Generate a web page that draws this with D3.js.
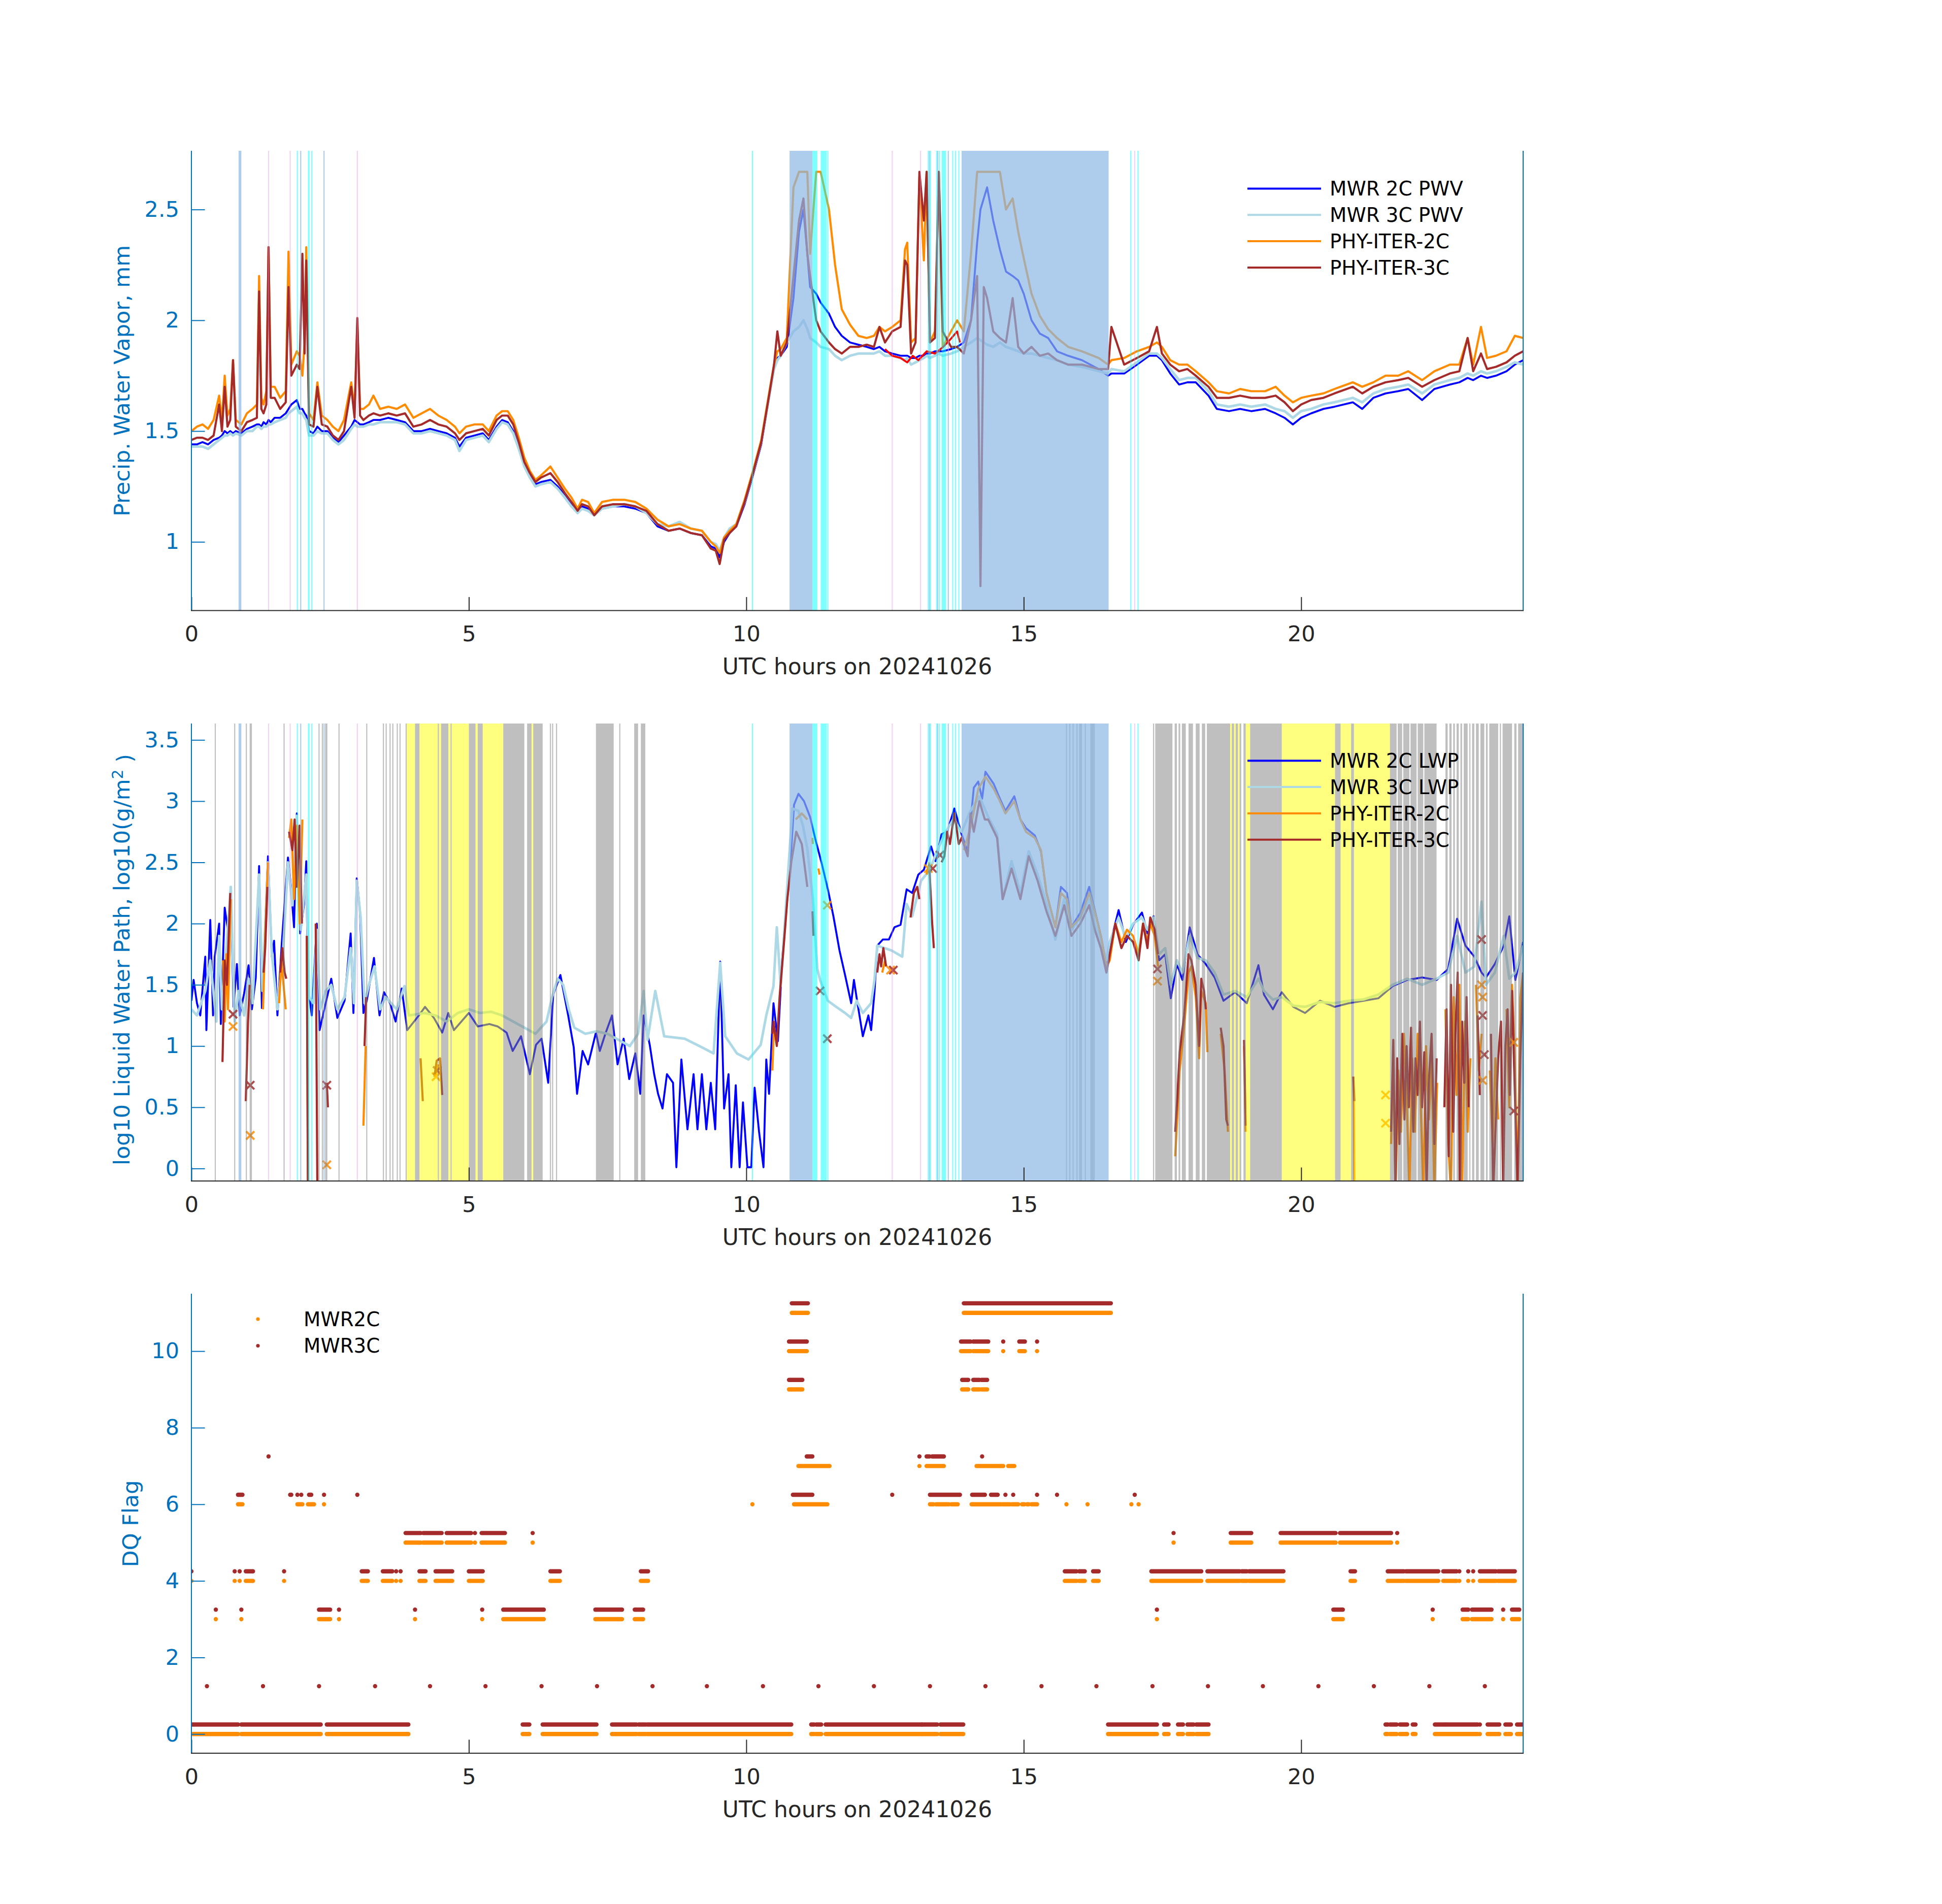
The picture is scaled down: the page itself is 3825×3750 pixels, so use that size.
<!DOCTYPE html>
<html>
<head>
<meta charset="utf-8">
<script src="https://cdn.jsdelivr.net/npm/d3@7"></script>
<style>
  body { margin: 0; background: #fff; }
  text { font-family: "DejaVu Sans", sans-serif; }
</style>
</head>
<body>
<script>
// ---- precipitable water vapour (panel 1), shared time grid in UTC hours
var pwvTime = [
  0, 0.1, 0.2, 0.3, 0.4, 0.5, 0.55, 0.6, 0.65, 0.7,
  0.75, 0.8, 0.9, 1.0, 1.1, 1.18, 1.22, 1.26, 1.3, 1.35,
  1.39, 1.43, 1.5, 1.6, 1.7, 1.75, 1.8, 1.9, 1.95, 2.0,
  2.04, 2.07, 2.12, 2.2, 2.27, 2.35, 2.45, 2.55, 2.65, 2.75,
  2.88, 2.94, 2.99, 3.04, 3.1, 3.2, 3.28, 3.4, 3.55, 3.7,
  3.85, 4.0, 4.15, 4.3, 4.45, 4.6, 4.75, 4.83, 4.95, 5.1,
  5.25, 5.36, 5.5, 5.6, 5.7, 5.8, 5.9, 6.0, 6.1, 6.2,
  6.3, 6.47, 6.6, 6.73, 6.85, 6.96, 7.04, 7.15, 7.26, 7.4,
  7.6, 7.8, 8.0, 8.2, 8.4, 8.6, 8.8, 9.0, 9.2, 9.36,
  9.45, 9.52, 9.6, 9.7, 9.82, 9.97, 10.12, 10.27, 10.43, 10.5,
  10.56, 10.62, 10.73, 10.85, 10.95, 11.03, 11.1, 11.15, 11.26, 11.34,
  11.49, 11.6, 11.72, 11.87, 12.02, 12.17, 12.3, 12.4, 12.5, 12.63,
  12.78, 12.86, 12.9, 12.97, 13.05, 13.12, 13.2, 13.25, 13.31, 13.4,
  13.47, 13.54, 13.69, 13.8, 13.92, 14.05, 14.16, 14.22, 14.28, 14.34,
  14.45, 14.57, 14.68, 14.8, 14.9, 15.0, 15.14, 15.29, 15.44, 15.6,
  15.8, 16.05, 16.35, 16.52, 16.58, 16.81, 17.04, 17.26, 17.4, 17.49,
  17.64, 17.8, 17.95, 18.1, 18.33, 18.48, 18.7, 18.9, 19.1, 19.35,
  19.54, 19.7, 19.85, 20.0, 20.18, 20.4, 20.6, 20.93, 21.1, 21.3,
  21.52, 21.75, 21.93, 22.18, 22.4, 22.68, 22.85, 23.0, 23.1, 23.24,
  23.35, 23.51, 23.7, 23.85, 24.0
];
var pwvMwr2C = [
  1.44, 1.44, 1.45, 1.44, 1.46, 1.47, 1.48, 1.50, 1.49, 1.50,
  1.49, 1.50, 1.49, 1.51, 1.52, 1.53, 1.53, 1.52, 1.54, 1.53,
  1.55, 1.54, 1.56, 1.56, 1.58, 1.60, 1.62, 1.64, 1.60, 1.60,
  1.58, 1.57, 1.50, 1.49, 1.52, 1.50, 1.50, 1.47, 1.45, 1.48,
  1.52, 1.55, 1.54, 1.53, 1.53, 1.54, 1.55, 1.55, 1.56, 1.55,
  1.54, 1.50, 1.50, 1.51, 1.50, 1.49, 1.47, 1.43, 1.47, 1.48,
  1.49, 1.46, 1.52, 1.55, 1.54, 1.50, 1.43, 1.35, 1.30, 1.26,
  1.27, 1.28, 1.25, 1.21, 1.17, 1.13, 1.16, 1.15, 1.12, 1.15,
  1.16, 1.16, 1.15, 1.13, 1.07, 1.05, 1.06, 1.04, 1.03, 0.98,
  0.97, 0.93, 1.00, 1.04, 1.07, 1.17, 1.30, 1.44, 1.68, 1.78,
  1.83, 1.84, 1.88, 2.10, 2.40, 2.50, 2.30, 2.15, 2.12, 2.08,
  2.03, 1.97, 1.93, 1.90, 1.89, 1.88, 1.87, 1.88, 1.86, 1.85,
  1.84, 1.84, 1.84, 1.83, 1.83, 1.84, 1.84, 1.85, 1.85, 1.86,
  1.86, 1.86, 1.87, 1.88, 1.90, 2.00, 2.35, 2.50, 2.55, 2.60,
  2.45, 2.32, 2.22, 2.20, 2.18, 2.12, 2.00, 1.94, 1.92, 1.86,
  1.84, 1.82, 1.78, 1.75, 1.76, 1.76, 1.80, 1.84, 1.84, 1.82,
  1.76, 1.71, 1.72, 1.72, 1.66, 1.60, 1.59, 1.60, 1.59, 1.60,
  1.58, 1.56, 1.53, 1.56, 1.58, 1.60, 1.61, 1.63, 1.60, 1.65,
  1.67, 1.68, 1.69, 1.64, 1.69, 1.71, 1.72, 1.74, 1.73, 1.75,
  1.74, 1.75, 1.77, 1.80, 1.82
];
var pwvMwr3C = [
  1.43, 1.43, 1.43, 1.42, 1.44, 1.46, 1.47, 1.48, 1.48, 1.49,
  1.48, 1.49, 1.48, 1.50, 1.50, 1.52, 1.52, 1.51, 1.52, 1.52,
  1.53, 1.53, 1.54, 1.55, 1.56, 1.58, 1.59, 1.61, 1.58, 1.58,
  1.56, 1.55, 1.48, 1.48, 1.50, 1.49, 1.49, 1.46, 1.44, 1.46,
  1.51, 1.53, 1.52, 1.52, 1.52, 1.53, 1.53, 1.54, 1.54, 1.54,
  1.53, 1.49, 1.49, 1.50, 1.49, 1.48, 1.46, 1.41, 1.46, 1.47,
  1.48, 1.45, 1.51, 1.54, 1.53, 1.49, 1.42, 1.34, 1.29, 1.25,
  1.26, 1.27, 1.24, 1.20, 1.16, 1.13, 1.15, 1.14, 1.12, 1.15,
  1.16, 1.17, 1.16, 1.13, 1.08, 1.07, 1.09, 1.06, 1.05, 1.00,
  0.99, 0.96, 1.02, 1.06, 1.08, 1.18, 1.31, 1.45, 1.68, 1.78,
  1.82, 1.84, 1.90, 1.95, 1.97, 2.00, 1.96, 1.92, 1.90, 1.88,
  1.87, 1.84, 1.82, 1.84, 1.85, 1.85, 1.85, 1.86, 1.84, 1.84,
  1.83, 1.82, 1.83, 1.80, 1.81, 1.82, 1.83, 1.84, 1.83, 1.84,
  1.85, 1.84, 1.85, 1.86, 1.88, 1.90, 1.92, 1.91, 1.90, 1.89,
  1.88, 1.90, 1.88, 1.87, 1.86, 1.85, 1.85, 1.84, 1.83, 1.82,
  1.80, 1.79, 1.77, 1.76, 1.78, 1.77, 1.81, 1.85, 1.85, 1.83,
  1.78, 1.73, 1.74, 1.74, 1.68, 1.62, 1.61, 1.62, 1.61, 1.62,
  1.60, 1.59, 1.56, 1.59, 1.60, 1.62, 1.63, 1.65, 1.63, 1.67,
  1.69, 1.70, 1.71, 1.67, 1.71, 1.73, 1.74, 1.76, 1.75, 1.77,
  1.76, 1.77, 1.79, 1.81, 1.80
];
var pwvPhy2C = [
  1.50, 1.52, 1.53, 1.51, 1.55, 1.66, 1.55, 1.75, 1.57, 1.60,
  1.82, 1.55, 1.53, 1.58, 1.60, 1.62, 2.20, 1.65, 1.62, 1.68,
  2.33, 1.70, 1.70, 1.65, 1.68, 2.31, 1.80, 1.86, 1.84, 1.75,
  1.90, 2.33, 1.58, 1.55, 1.72, 1.57, 1.55, 1.52, 1.50, 1.55,
  1.72, 1.60, 1.98, 1.60, 1.60, 1.62, 1.66, 1.60, 1.61, 1.60,
  1.62, 1.56, 1.58, 1.60, 1.57, 1.55, 1.52, 1.49, 1.52, 1.53,
  1.53, 1.50, 1.57, 1.59, 1.59, 1.55, 1.47, 1.38, 1.32, 1.28,
  1.30, 1.34, 1.29, 1.24, 1.20, 1.15, 1.19, 1.18, 1.13, 1.18,
  1.19, 1.19, 1.18, 1.15, 1.10, 1.07, 1.08, 1.06, 1.05, 1.00,
  0.98, 0.95, 1.02, 1.05, 1.08, 1.19, 1.32, 1.46, 1.70, 1.80,
  1.86, 1.87, 1.92, 2.60, 2.67, 2.67, 2.67, 2.30, 2.67, 2.67,
  2.50, 2.25, 2.05, 1.98, 1.93, 1.92, 1.93, 1.97, 1.95, 1.97,
  2.00, 2.32, 2.35, 1.90, 1.92, 2.65, 2.27, 2.67, 1.90, 1.95,
  2.67, 1.88, 1.95, 2.00, 1.95, 2.30, 2.67, 2.67, 2.67, 2.67,
  2.67, 2.67, 2.50, 2.55, 2.40, 2.28, 2.12, 2.02, 1.96, 1.92,
  1.88, 1.86, 1.83, 1.80, 1.82, 1.83, 1.86, 1.88, 1.90, 1.88,
  1.82, 1.80, 1.80, 1.77, 1.72, 1.68, 1.67, 1.69, 1.68, 1.68,
  1.70, 1.66, 1.63, 1.65, 1.66, 1.67, 1.69, 1.72, 1.70, 1.72,
  1.75, 1.75, 1.77, 1.73, 1.77, 1.80, 1.80, 1.92, 1.80, 1.97,
  1.83, 1.84, 1.86, 1.93, 1.92
];
var pwvPhy3C = [
  1.46, 1.47, 1.47, 1.46, 1.48, 1.62, 1.50, 1.70, 1.52, 1.55,
  1.82, 1.52, 1.50, 1.54, 1.55, 1.56, 2.13, 1.60, 1.58, 1.62,
  2.33, 1.65, 1.65, 1.60, 1.63, 2.15, 1.75, 1.80, 1.78, 2.30,
  1.85, 2.27, 1.53, 1.52, 1.70, 1.53, 1.52, 1.48, 1.46, 1.50,
  1.70, 1.56, 2.01, 1.57, 1.55, 1.57, 1.58, 1.57, 1.58, 1.57,
  1.58, 1.52, 1.53, 1.55, 1.53, 1.52, 1.49, 1.46, 1.49, 1.50,
  1.51, 1.48, 1.55, 1.57, 1.57, 1.53, 1.45, 1.36, 1.31, 1.27,
  1.29, 1.31, 1.27, 1.22, 1.18, 1.14, 1.17, 1.16, 1.12, 1.16,
  1.17, 1.17, 1.16, 1.14, 1.08, 1.05, 1.06, 1.04, 1.03, 0.97,
  0.96, 0.90, 1.01, 1.04, 1.07, 1.18, 1.31, 1.45, 1.69, 1.80,
  1.95, 1.84, 1.90, 2.20, 2.45, 2.55, 2.30, 2.20, 2.00, 1.95,
  1.90, 1.87, 1.85, 1.88, 1.88, 1.89, 1.88, 1.97, 1.90, 1.95,
  1.97, 2.27, 2.25, 1.85, 1.90, 2.67, 2.45, 2.67, 1.90, 1.92,
  2.67, 1.95, 1.88, 1.88, 1.85, 2.00, 2.20, 0.80, 2.15, 2.10,
  1.95, 1.92, 1.90, 2.10, 1.88, 1.85, 1.88, 1.84, 1.85, 1.82,
  1.80, 1.80, 1.78, 1.78, 1.97, 1.80, 1.83, 1.86, 1.97, 1.85,
  1.80, 1.77, 1.78, 1.75, 1.70, 1.65, 1.65, 1.66, 1.65, 1.65,
  1.66, 1.63, 1.59, 1.62, 1.64, 1.65, 1.67, 1.70, 1.67, 1.70,
  1.72, 1.73, 1.74, 1.70, 1.73, 1.76, 1.77, 1.92, 1.77, 1.85,
  1.78, 1.79, 1.81, 1.84, 1.86
];
// flagged MWR 2C PWV samples drawn in red
var pwvFlagged = [[12.5, 1.87], [12.63, 1.84], [12.78, 1.83], [12.9, 1.81], [13.0, 1.84], [13.1, 1.82],
  [13.25, 1.86], [13.4, 1.85], [13.55, 1.88], [13.7, 1.92], [13.8, 1.95], [13.85, 1.9]];

// ---- liquid water path (panel 2), [hour, log10 LWP]; null = gap
var lwpMwr2C = [[0,1.37],[0.04,1.54],[0.1,1.35],[0.16,1.25],[0.25,1.73],[0.27,1.13],[0.34,2.03],[0.39,1.25],[0.42,1.73],[0.5,2.0],
  [0.53,1.18],[0.6,2.13],[0.66,1.94],[0.71,2.28],[0.76,1.32],[0.82,1.67],[0.87,1.25],[0.95,1.43],[1.03,1.66],[1.09,1.3],
  [1.16,1.56],[1.22,2.47],[1.27,1.31],[1.38,2.55],[1.45,1.73],[1.49,1.86],[1.55,1.25],[1.63,1.85],[1.74,2.54],[1.79,2.32],
  [1.85,1.97],[1.9,2.9],[1.96,1.92],[2.03,2.16],[2.07,2.51],[2.1,1.49],[2.17,1.25],[2.26,2.0],[2.31,1.13],[2.42,1.35],
  [2.52,1.55],[2.63,1.23],[2.76,1.37],[2.87,1.92],[2.92,1.27],[2.98,2.37],[3.04,2.09],[3.1,1.27],[3.16,1.37],[3.29,1.72],
  [3.39,1.25],[3.47,1.44],[3.58,1.35],[3.68,1.2],[3.79,1.47],[3.89,1.13],[4.1,1.25],[4.21,1.32],[4.37,1.23],[4.52,1.11],
  [4.63,1.27],[4.73,1.13],[5.0,1.27],[5.16,1.16],[5.37,1.18],[5.52,1.16],[5.68,1.11],[5.79,0.96],[5.94,1.08],[6.1,0.77],
  [6.21,1.01],[6.31,1.06],[6.43,0.7],[6.52,1.42],[6.65,1.58],[6.79,1.25],[6.89,0.99],[6.95,0.61],[7.05,0.96],[7.15,0.85],
  [7.29,1.11],[7.36,0.96],[7.46,1.1],[7.58,1.25],[7.68,0.85],[7.79,1.06],[7.89,0.73],[8.0,0.94],[8.09,0.61],[8.15,1.25],
  [8.26,1.01],[8.34,0.77],[8.41,0.61],[8.49,0.49],[8.57,0.77],[8.68,0.7],[8.74,0.01],[8.83,0.89],[8.94,0.32],[9.05,0.77],
  [9.12,0.32],[9.2,0.77],[9.28,0.32],[9.36,0.7],[9.44,0.32],[9.53,1.69],[9.6,0.49],[9.68,0.77],[9.73,0.01],[9.81,0.68],
  [9.88,0.01],[9.94,0.54],[10.02,0.01],[10.09,0.01],[10.15,0.66],[10.23,0.3],[10.31,0.01],[10.36,0.89],[10.41,0.61],[10.49,1.35],
  [10.57,1.04],[10.65,1.73],[10.73,2.16],[10.81,2.61],[10.86,2.97],[10.94,3.06],[11.04,3.0],[11.15,2.87],[11.25,2.68],[11.36,2.49],
  [11.47,2.28],[11.57,2.06],[11.68,1.78],[11.78,1.58],[11.89,1.35],[11.94,1.54],[11.99,1.39],[12.1,1.08],[12.2,1.25],[12.25,1.13],
  [12.31,1.44],[12.36,1.82],[12.46,1.87],[12.57,1.87],[12.67,1.97],[12.78,1.99],[12.89,2.28],[12.99,2.25],[13.1,2.4],[13.2,2.44],
  [13.33,2.63],[13.41,2.51],[13.52,2.73],[13.62,2.75],[13.75,2.94],[13.88,2.73],[13.99,2.59],[14.1,3.11],[14.18,3.16],[14.25,3.02],
  [14.31,3.24],[14.46,3.14],[14.57,3.02],[14.67,2.92],[14.83,3.04],[14.94,2.85],[15.04,2.78],[15.2,2.72],[15.31,2.59],[15.41,2.25],
  [15.57,1.97],[15.67,2.3],[15.78,2.25],[15.86,1.97],[16.02,2.09],[16.18,2.3],[16.28,2.11],[16.39,1.9],[16.49,1.66],[16.55,1.82],
  [16.71,2.11],[16.84,1.85],[16.97,1.99],[17.13,2.09],[17.23,1.92],[17.34,2.06],[17.44,1.7],[17.55,1.75],[17.65,1.39],[17.76,1.67],
  [17.86,1.54],[17.99,1.97],[18.13,1.75],[18.28,1.67],[18.44,1.56],[18.6,1.37],[18.81,1.44],[19.02,1.35],[19.23,1.66],[19.33,1.42],
  [19.49,1.3],[19.65,1.44],[19.86,1.32],[20.07,1.27],[20.34,1.37],[20.6,1.32],[20.86,1.35],[21.12,1.37],[21.39,1.39],[21.65,1.49],
  [21.91,1.54],[22.18,1.56],[22.44,1.54],[22.65,1.63],[22.81,2.04],[22.96,1.82],[23.12,1.73],[23.25,1.6],[23.33,1.56],[23.49,1.67],
  [23.65,1.82],[23.75,2.06],[23.86,1.54],[24.0,1.85]];
var lwpMwr3C = [[0,1.3],[0.1,1.25],[0.25,1.45],[0.34,1.7],[0.45,1.2],[0.5,1.9],[0.55,1.3],[0.71,2.3],[0.78,1.2],[0.85,1.45],
  [0.95,1.25],[1.03,1.55],[1.1,1.35],[1.22,2.4],[1.28,1.45],[1.38,2.5],[1.45,1.75],[1.55,1.3],[1.65,1.75],[1.74,2.5],
  [1.82,2.15],[1.9,2.88],[1.97,1.95],[2.07,2.4],[2.12,1.4],[2.2,1.35],[2.26,1.95],[2.32,1.3],[2.42,1.45],[2.52,1.5],
  [2.63,1.3],[2.76,1.4],[2.87,1.8],[2.93,1.35],[2.98,2.35],[3.05,2.05],[3.12,1.35],[3.2,1.5],[3.3,1.65],[3.4,1.3],
  [3.5,1.4],[3.6,1.35],[3.7,1.3],[3.84,1.49],[3.92,1.25],[4.2,1.27],[4.4,1.25],[4.6,1.2],[4.8,1.27],[5.0,1.3],
  [5.2,1.27],[5.4,1.28],[5.6,1.25],[5.8,1.2],[6.0,1.15],[6.2,1.1],[6.4,1.2],[6.5,1.4],[6.6,1.55],[6.7,1.5],
  [6.8,1.3],[6.9,1.15],[7.1,1.1],[7.3,1.12],[7.5,1.1],[7.7,1.05],[7.9,1.0],[8.05,1.1],[8.15,1.45],[8.22,1.05],
  [8.36,1.45],[8.52,1.08],[8.89,1.06],[9.2,0.99],[9.41,0.94],[9.53,1.68],[9.62,1.08],[9.83,0.94],[10.04,0.89],[10.26,1.01],
  [10.36,1.25],[10.49,1.49],[10.55,1.97],[10.62,1.49],[10.73,2.25],[10.83,2.94],[10.94,2.92],[11.02,2.8],[11.1,2.61],[11.2,2.2],
  [11.28,1.63],[11.33,1.54],[11.47,1.37],[11.62,1.32],[11.78,1.27],[11.89,1.23],[11.99,1.37],[12.1,1.27],[12.25,1.35],[12.31,1.54],
  [12.36,1.82],[12.62,1.78],[12.81,1.73],[12.89,2.16],[12.99,2.06],[13.15,2.35],[13.31,2.44],[13.41,2.56],[13.57,2.73],[13.73,2.85],
  [13.88,2.75],[14.04,2.92],[14.2,3.04],[14.36,2.87],[14.52,2.73],[14.62,2.2],[14.78,2.51],[14.94,2.25],[15.09,2.59],[15.25,2.4],
  [15.41,2.16],[15.57,1.87],[15.73,2.2],[15.86,1.95],[16.02,2.05],[16.18,2.2],[16.28,2.0],[16.39,1.85],[16.49,1.7],[16.55,1.85],
  [16.71,2.05],[16.84,1.88],[16.97,2.0],[17.13,2.05],[17.23,1.95],[17.34,2.05],[17.44,1.75],[17.55,1.8],[17.65,1.5],[17.76,1.7],
  [17.86,1.6],[17.99,1.9],[18.13,1.72],[18.28,1.7],[18.44,1.6],[18.6,1.42],[18.81,1.45],[19.02,1.4],[19.23,1.55],[19.33,1.45],
  [19.49,1.38],[19.65,1.4],[19.86,1.33],[20.07,1.32],[20.34,1.36],[20.6,1.35],[20.86,1.37],[21.12,1.38],[21.39,1.42],[21.65,1.5],
  [21.91,1.55],[22.18,1.5],[22.44,1.55],[22.65,1.6],[22.81,1.9],[22.96,1.6],[23.12,1.65],[23.25,2.18],[23.33,1.5],[23.49,1.6],
  [23.65,1.9],[23.75,1.55],[23.86,1.6],[24.0,1.82]];
var lwpPhy2C = [[0.57,1.7],[0.6,1.2],[0.63,1.75],[0.66,1.3],[0.71,2.2],[0.73,null],
  [1.29,1.3],[1.33,1.9],[1.38,2.5],[1.4,null],
  [1.58,1.35],[1.62,1.7],[1.66,1.5],[1.7,1.3],[1.72,null],
  [1.76,2.7],[1.8,2.85],[1.85,2.2],[1.9,2.8],[1.95,2.0],[2.0,2.85],[2.03,null],
  [2.08,1.9],[2.1,-0.2],[2.12,null],
  [3.1,0.35],[3.14,1.0],[3.16,null],
  [4.4,0.75],[4.45,0.85],[4.5,null],
  [10.47,0.8],[10.5,1.2],[10.52,null],
  [10.89,2.85],[11.0,2.9],[11.1,2.85],[11.15,null],
  [11.19,2.7],[11.2,2.65],[11.22,null],[11.3,2.45],[11.32,2.4],[11.34,null],
  [12.45,1.6],[12.5,1.7],[12.55,null],
  [13.25,2.4],[13.3,2.5],[13.35,null],
  [13.92,2.6],[14.05,2.8],[14.18,3.1],[14.31,3.2],[14.46,3.1],[14.57,3.0],[14.67,2.9],[14.83,3.0],[14.94,2.85],[15.04,2.75],
  [15.2,2.7],[15.31,2.6],[15.41,2.25],[15.57,1.97],[15.67,2.25],[15.78,2.2],[15.86,1.97],[16.02,2.05],[16.18,2.25],[16.28,2.1],
  [16.39,1.9],[16.49,1.65],[16.55,1.7],[16.65,2.0],[16.76,1.85],[16.86,1.95],[16.97,1.9],[17.07,1.75],[17.15,2.0],[17.23,1.85],
  [17.28,2.0],[17.36,1.9],[17.42,1.65],[17.45,null],
  [17.73,0.1],[17.81,0.8],[17.89,1.15],[17.97,1.6],[18.02,1.65],[18.1,1.4],[18.16,0.9],[18.2,1.45],[18.28,1.35],[18.31,0.95],[18.33,null],
  [18.55,1.1],[18.62,0.8],[18.68,0.3],[18.7,null],
  [18.97,1.0],[19.0,0.3],[19.02,null],
  [20.94,0.75],[20.95,0.5],[20.96,-0.2],[20.98,null],
  [21.62,0.2],[21.66,0.9],[21.7,-0.2],[21.75,0.8],[21.8,0.3],[21.85,1.1],[21.9,0.6],[21.95,-0.2],[22.0,0.9],[22.05,0.3],
  [22.1,1.1],[22.15,0.6],[22.2,-0.2],[22.25,1.0],[22.3,0.4],[22.35,0.9],[22.4,-0.2],[22.45,0.7],[22.5,null],
  [22.6,1.3],[22.65,0.2],[22.7,-0.2],[22.75,1.4],[22.8,0.6],[22.85,1.5],[22.9,-0.2],[22.95,1.2],[23.0,0.3],[23.05,0.9],[23.1,null],
  [23.15,1.5],[23.2,0.8],[23.25,1.1],[23.3,null],
  [23.4,0.8],[23.45,0.2],[23.5,0.9],[23.55,0.4],[23.6,null],
  [23.7,1.3],[23.75,0.5],[23.8,1.5],[23.85,0.9],[23.9,-0.2],[23.95,1.4],[24.0,1.6]];
var lwpPhy3C = [[0.56,0.87],[0.6,1.7],[0.64,1.5],[0.68,2.0],[0.7,2.25],[0.72,null],
  [0.98,0.55],[1.02,1.2],[1.05,1.5],[1.07,null],
  [1.3,1.6],[1.33,1.8],[1.37,2.3],[1.39,null],
  [1.6,1.6],[1.64,1.8],[1.68,1.6],[1.71,1.55],[1.73,null],
  [1.76,2.75],[1.82,2.6],[1.86,2.85],[1.9,2.3],[1.95,2.8],[1.99,2.0],[2.02,null],
  [2.08,1.9],[2.1,-0.2],[2.12,null],[2.24,2.0],[2.27,-0.2],[2.29,null],
  [2.44,0.7],[2.46,0.5],[2.48,null],
  [3.12,1.0],[3.15,1.4],[3.17,null],
  [4.13,0.9],[4.17,0.55],[4.19,null],[4.38,0.75],[4.42,0.88],[4.48,0.9],[4.52,0.6],[4.54,null],
  [10.47,1.1],[10.49,1.2],[10.55,1.0],[10.6,1.4],[10.68,1.85],[10.74,2.2],[10.81,2.5],[10.9,2.75],[11.0,2.65],[11.1,2.3],[11.12,null],
  [11.19,2.1],[11.21,1.9],[11.23,null],
  [12.36,1.6],[12.4,1.75],[12.43,1.65],[12.47,1.8],[12.52,1.65],[12.54,null],
  [12.96,2.05],[13.02,2.25],[13.08,2.3],[13.12,2.2],[13.14,null],
  [13.3,2.45],[13.35,2.0],[13.38,1.8],[13.4,null],
  [13.52,2.5],[13.57,2.55],[13.62,2.75],[13.67,2.65],[13.75,2.9],[13.83,2.65],[13.88,2.7],[13.99,2.55],[14.04,2.9],[14.1,2.75],
  [14.2,3.0],[14.3,2.85],[14.36,2.85],[14.52,2.7],[14.62,2.2],[14.78,2.45],[14.94,2.2],[15.09,2.55],[15.25,2.35],[15.41,2.1],
  [15.57,1.9],[15.73,2.15],[15.86,1.9],[16.02,2.0],[16.18,2.15],[16.28,1.95],[16.39,1.8],[16.49,1.6],[16.55,1.75],[16.65,2.0],
  [16.76,1.8],[16.86,1.9],[16.97,1.85],[17.07,1.7],[17.15,2.0],[17.23,1.8],[17.28,2.05],[17.36,1.95],[17.42,1.75],[17.45,null],
  [17.73,0.3],[17.77,0.6],[17.81,0.95],[17.89,1.25],[17.97,1.75],[18.02,1.7],[18.1,1.5],[18.16,1.0],[18.2,1.55],[18.25,1.45],[18.28,1.3],[18.3,null],
  [18.55,1.15],[18.6,1.0],[18.65,0.4],[18.68,0.35],[18.7,null],
  [18.97,1.05],[19.0,0.35],[19.02,null],
  [20.94,0.75],[20.96,0.55],[20.98,null],
  [21.62,0.3],[21.66,1.05],[21.7,-0.2],[21.73,0.9],[21.77,0.2],[21.82,1.1],[21.86,0.4],[21.9,1.0],[21.94,0.5],[21.98,1.15],
  [22.02,0.3],[22.06,0.9],[22.1,0.6],[22.14,1.2],[22.18,0.5],[22.22,0.95],[22.26,-0.2],[22.3,0.7],[22.35,1.1],[22.4,0.2],[22.44,0.9],[22.47,null],
  [22.58,0.5],[22.62,1.3],[22.66,0.1],[22.7,1.5],[22.74,0.3],[22.78,1.1],[22.82,1.6],[22.86,-0.2],[22.9,1.2],[22.94,0.7],[22.98,1.4],[23.02,0.5],[23.05,null],
  [23.18,1.25],[23.22,0.6],[23.24,null],
  [23.42,1.1],[23.46,-0.2],[23.5,0.3],[23.55,0.9],[23.6,1.2],[23.64,-0.2],[23.68,1.0],[23.72,1.3],[23.76,0.6],[23.8,1.45],
  [23.84,0.8],[23.9,-0.2],[23.95,0.9],[24.0,1.6]];
var lwpCross2C = [[0.75,1.16],[1.06,0.27],[2.44,0.03],[4.41,0.75],[11.46,2.15],[12.6,1.62],[13.28,2.45],[17.41,1.53],
  [21.52,0.6],[21.52,0.37],[23.25,1.5],[23.27,1.4],[23.27,0.72],[23.83,1.03]];
var lwpCross3C = [[0.75,1.26],[1.06,0.68],[2.44,0.68],[4.43,0.8],[11.33,1.45],[11.46,1.06],[12.65,1.62],[13.36,2.45],
  [13.49,2.56],[17.41,1.63],[23.25,1.87],[23.27,1.25],[23.3,0.93],[23.83,0.47]];

// ---- shaded time intervals [start hour, end hour]
var blueBands = [[0.85,0.9],[1.96,1.98],[2.38,2.4],[10.78,11.19],[13.29,13.31],[13.44,13.46],[13.63,13.65],[13.88,16.53]];
var cyanBands = [[1.9,1.92],[2.1,2.13],[2.16,2.18],[10.1,10.12],[11.19,11.28],[11.34,11.45],[11.46,11.48],[13.27,13.29],
  [13.31,13.33],[13.42,13.44],[13.47,13.49],[13.52,13.6],[13.71,13.73],[13.76,13.78],[13.82,13.84],[16.92,16.94],[17.05,17.07]];
var pinkBands = [[1.38,1.39],[1.77,1.78],[2.98,2.99],[12.62,12.63],[13.13,13.14],[16.99,17.0]];
var grayBands = [[0.42,0.44],[0.77,0.79],[0.98,1.0],[1.05,1.09],[1.66,1.68],[2.29,2.31],[2.35,2.37],[2.41,2.45],[2.65,2.67],
  [3.15,3.17],[3.45,3.47],[3.5,3.52],[3.57,3.59],[3.62,3.64],[3.7,3.72],[3.75,3.77],[3.86,3.88],[4.03,4.11],[4.44,4.46],
  [4.5,4.63],[4.67,4.69],[5.0,5.12],[5.16,5.25],[5.62,6.0],[6.05,6.13],[6.16,6.33],[6.46,6.48],[6.5,6.52],[6.57,6.59],
  [7.29,7.61],[7.71,7.73],[7.98,8.05],[8.1,8.18],[15.76,15.78],[15.82,15.84],[15.88,15.9],[15.95,15.97],[16.0,16.05],
  [16.1,16.12],[16.2,16.28],[17.33,17.34],[17.37,17.68],[17.72,17.76],[17.79,17.82],[17.85,17.92],[17.97,18.05],[18.1,18.17],
  [18.21,18.27],[18.3,18.72],[18.75,18.79],[18.82,18.86],[18.89,18.92],[18.96,19.0],[19.08,19.65],[20.61,20.71],[20.9,20.95],
  [21.6,21.72],[21.74,21.82],[21.84,21.95],[21.97,22.08],[22.1,22.2],[22.22,22.44],[22.6,22.64],[22.67,22.71],[22.74,22.77],
  [22.8,22.84],[22.87,22.9],[22.93,23.0],[23.03,23.05],[23.08,23.12],[23.15,23.2],[23.23,23.3],[23.33,23.36],[23.39,23.55],
  [23.58,23.6],[23.63,23.8],[23.84,23.88],[23.91,24.0]];
var yellowBands = [[3.88,4.03],[4.11,4.44],[4.46,4.5],[4.63,4.67],[4.69,5.0],[5.12,5.16],[5.25,5.62],[6.13,6.16],
  [18.72,18.75],[18.79,18.82],[18.86,18.89],[19.0,19.08],[19.65,20.61],[20.71,20.9],[20.95,21.6]];

// ---- data quality flags (panel 3): runs [start hour, end hour, flag]
var dqBoth = [
  [0,0.84,0],[0.9,2.33,0],[2.44,3.91,0],[5.97,6.09,0],[6.33,7.3,0],[7.58,8.02,0],[8.06,8.18,0],[8.21,10.81,0],
  [11.17,11.22,0],[11.26,11.35,0],[11.43,13.16,0],[13.17,13.44,0],[13.5,13.91,0],[16.52,17.4,0],[17.53,17.61,0],
  [17.78,17.87,0],[17.95,18.06,0],[18.11,18.33,0],[21.52,21.56,0],[21.6,21.72,0],[21.78,21.91,0],[22.01,22.06,0],
  [22.41,22.6,0],[22.62,23.18,0],[23.22,23.22,0],[23.36,23.57,0],[23.68,23.78,0],[23.89,24,0],
  [0.44,0.44,3],[0.9,0.9,3],[2.3,2.5,3],[2.66,2.66,3],[4.03,4.03,3],[5.24,5.24,3],[5.62,6.35,3],[7.28,7.76,3],
  [7.99,8.14,3],[17.4,17.4,3],[20.58,20.75,3],[22.37,22.37,3],[22.91,23.01,3],[23.08,23.43,3],[23.64,23.64,3],[23.8,23.93,3],
  [0,0,4],[0.78,0.78,4],[0.87,0.87,4],[0.98,1.11,4],[1.67,1.67,4],[3.07,3.18,4],[3.45,3.62,4],[3.69,3.69,4],[3.77,3.77,4],
  [4.11,4.22,4],[4.4,4.7,4],[5.0,5.25,4],[6.47,6.64,4],[8.1,8.23,4],[15.74,15.95,4],[16.0,16.1,4],[16.25,16.35,4],
  [17.3,18.2,4],[18.31,18.89,4],[18.93,19.02,4],[19.06,19.68,4],[20.89,20.97,4],[21.56,21.85,4],[21.89,22.47,4],
  [22.56,22.8,4],[22.85,22.85,4],[23.01,23.01,4],[23.1,23.1,4],[23.22,23.51,4],[23.55,23.85,4],
  [3.86,4.13,5],[4.18,4.51,5],[4.6,5.04,5],[5.11,5.11,5],[5.23,5.65,5],[6.15,6.15,5],[17.7,17.7,5],[18.73,19.1,5],
  [19.63,20.62,5],[20.7,21.62,5],[21.73,21.73,5],
  [10.77,11.01,9],[13.89,14.0,9],[14.09,14.2,9],[14.24,14.34,9],
  [10.77,11.09,10],[13.87,14.04,10],[14.09,14.36,10],[14.63,14.63,10],[14.92,15.02,10],[15.24,15.24,10],
  [10.82,11.11,11],[13.92,16.57,11]
];
var dq2COnly = [
  [0.84,0.92,6],[1.91,2.0,6],[2.1,2.21,6],[2.39,2.39,6],[10.11,10.11,6],[10.86,11.46,6],[13.31,13.37,6],[13.42,13.65,6],
  [13.7,13.81,6],[14.06,14.59,6],[14.62,14.75,6],[14.79,14.9,6],[14.97,15.01,6],[15.06,15.09,6],[15.14,15.24,6],
  [15.77,15.77,6],[16.15,16.15,6],[16.94,16.94,6],[17.07,17.07,6],
  [10.94,11.5,7],[13.12,13.12,7],[13.25,13.56,7],[14.15,14.63,7],[14.72,14.83,7]
];
var dq3COnly = [
  [0.28,0.28,1],[1.29,1.29,1],[2.3,2.3,1],[3.31,3.31,1],[4.3,4.3,1],[5.3,5.3,1],[6.31,6.31,1],[7.31,7.31,1],
  [8.31,8.31,1],[9.29,9.29,1],[10.3,10.3,1],[11.3,11.3,1],[12.3,12.3,1],[13.31,13.31,1],[14.31,14.31,1],[15.32,15.32,1],
  [16.31,16.31,1],[17.32,17.32,1],[18.32,18.32,1],[19.31,19.31,1],[20.31,20.31,1],[21.31,21.31,1],[22.31,22.31,1],[23.31,23.31,1],
  [0.84,0.92,6],[1.78,1.8,6],[1.91,1.91,6],[1.98,1.98,6],[2.12,2.16,6],[2.39,2.39,6],[2.99,2.99,6],[10.84,11.19,6],
  [12.63,12.63,6],[13.31,13.85,6],[14.07,14.3,6],[14.41,14.53,6],[14.67,14.67,6],[14.81,14.81,6],[15.24,15.24,6],
  [15.6,15.6,6],[17.0,17.0,6],
  [1.39,1.39,7],[11.09,11.19,7],[13.12,13.12,7],[13.25,13.3,7],[13.35,13.56,7],[14.25,14.25,7]
];

var hourTicks = [0, 5, 10, 15, 20];
var pwvTicks = [1, 1.5, 2, 2.5];
var lwpTicks = [0, 0.5, 1, 1.5, 2, 2.5, 3, 3.5];
var dqTicks = [0, 2, 4, 6, 8, 10];

var C_MWR2 = '#0000ff', C_MWR3 = '#add8e6', C_PHY2 = '#ff8c00', C_PHY3 = '#a52a2a';
var AXIS_BLUE = '#0072bd', AXIS_DARK = '#262626';
var FS = 43, FS_LEG = 38.7, TICK = 26.6;

var svg = d3.select('body').append('svg')
    .attr('width', 3825).attr('height', 3750)
    .style('display', 'block');

var x = d3.scaleLinear().domain([0, 24]).range([377, 3000]);

function panel(id, top, bottom, domain) {
    var y = d3.scaleLinear().domain(domain).range([bottom, top]);
    svg.append('clipPath').attr('id', 'clip' + id)
      .append('rect')
        .attr('x', x(0)).attr('y', top)
        .attr('width', x(24) - x(0)).attr('height', bottom - top);
    var g = svg.append('g').attr('clip-path', 'url(#clip' + id + ')');
    return { y: y, g: g, top: top, bottom: bottom };
}

function drawLine(p, pts, color, width) {
    var line = d3.line()
        .defined(function (d) { return d[1] !== null; })
        .x(function (d) { return x(d[0]); })
        .y(function (d) { return p.y(d[1]); });
    p.g.append('path').datum(pts)
        .attr('d', line)
        .attr('fill', 'none')
        .attr('stroke', color)
        .attr('stroke-width', width)
        .attr('stroke-linejoin', 'round');
}

function zipTime(values) {
    return pwvTime.map(function (t, i) { return [t, values[i]]; });
}

function drawBands(p, bands, color, opacity) {
    p.g.append('g').selectAll('rect')
        .data(bands)
      .enter().append('rect')
        .attr('x', function (d) { return x(d[0]); })
        .attr('width', function (d) { return Math.max(2.2, x(d[1]) - x(d[0])); })
        .attr('y', p.top)
        .attr('height', p.bottom - p.top)
        .attr('fill', color)
        .attr('fill-opacity', opacity);
}

function drawCrosses(p, pts, color) {
    p.g.append('g').selectAll('path')
        .data(pts)
      .enter().append('path')
        .attr('transform', function (d) { return 'translate(' + x(d[0]) + ',' + p.y(d[1]) + ')'; })
        .attr('d', 'M-8,-8L8,8M-8,8L8,-8')
        .attr('stroke', color)
        .attr('stroke-width', 4)
        .attr('stroke-opacity', 0.85)
        .attr('fill', 'none');
}

function drawRuns(p, runs, color, offset) {
    var r = 4.2;
    p.g.append('g').selectAll('rect')
        .data(runs)
      .enter().append('rect')
        .attr('x', function (d) { return x(d[0]) - r; })
        .attr('width', function (d) { return x(d[1]) - x(d[0]) + 2 * r; })
        .attr('y', function (d) { return p.y(d[2] + offset) - r; })
        .attr('height', 2 * r)
        .attr('rx', r)
        .attr('fill', color);
}

function drawAxes(p, yTicks, yFormat) {
    var gx = svg.append('g')
        .attr('transform', 'translate(0,' + p.bottom + ')')
        .call(d3.axisBottom(x).tickValues(hourTicks).tickSizeInner(-TICK).tickSizeOuter(0).tickPadding(30));
    gx.select('.domain').remove();
    gx.selectAll('.tick line').attr('stroke', AXIS_DARK).attr('stroke-width', 2);
    gx.selectAll('.tick text').attr('fill', AXIS_DARK).style('font-size', FS + 'px')
        .style('font-family', '"DejaVu Sans", sans-serif');

    var gy = svg.append('g')
        .attr('transform', 'translate(' + x(0) + ',0)')
        .call(d3.axisLeft(p.y).tickValues(yTicks).tickFormat(yFormat)
            .tickSizeInner(-TICK).tickSizeOuter(0).tickPadding(24));
    gy.select('.domain').remove();
    gy.selectAll('.tick line').attr('stroke', AXIS_BLUE).attr('stroke-width', 2);
    gy.selectAll('.tick text').attr('fill', AXIS_BLUE).style('font-size', FS + 'px')
        .style('font-family', '"DejaVu Sans", sans-serif');

    // frame: blue sides, dark bottom
    svg.append('line').attr('x1', x(0)).attr('x2', x(0)).attr('y1', p.top).attr('y2', p.bottom)
        .attr('stroke', AXIS_BLUE).attr('stroke-width', 2);
    svg.append('line').attr('x1', x(24)).attr('x2', x(24)).attr('y1', p.top).attr('y2', p.bottom)
        .attr('stroke', AXIS_BLUE).attr('stroke-width', 2);
    svg.append('line').attr('x1', x(0) - 1).attr('x2', x(24) + 1).attr('y1', p.bottom).attr('y2', p.bottom)
        .attr('stroke', AXIS_DARK).attr('stroke-width', 2);

    svg.append('text')
        .attr('x', (x(0) + x(24)) / 2).attr('y', p.bottom + 125.5)
        .attr('text-anchor', 'middle').attr('fill', AXIS_DARK)
        .style('font-size', '44px')
        .text('UTC hours on 20241026');
}

function yLabel(bx, cy) {
    return svg.append('text')
        .attr('transform', 'translate(' + bx + ',' + cy + ') rotate(-90)')
        .attr('text-anchor', 'middle').attr('fill', AXIS_BLUE)
        .style('font-size', FS + 'px');
}

function lineLegend(y0, names, colors) {
    names.forEach(function (name, i) {
        var yy = y0 + i * 51.8;
        svg.append('line').attr('x1', 2457).attr('x2', 2602).attr('y1', yy).attr('y2', yy)
            .attr('stroke', colors[i]).attr('stroke-width', 4);
        svg.append('text').attr('x', 2619).attr('y', yy).attr('dy', '0.36em')
            .attr('fill', '#000').style('font-size', FS_LEG + 'px').text(name);
    });
}

var fmt = function (d) { return String(d); };

// ---------------- panel 1: PWV
var p1 = panel(1, 297, 1202.5, [0.69, 2.765]);
drawLine(p1, zipTime(pwvMwr2C), C_MWR2, 3.8);
drawLine(p1, zipTime(pwvMwr3C), C_MWR3, 5);
drawLine(p1, zipTime(pwvPhy2C), C_PHY2, 4.2);
drawLine(p1, zipTime(pwvPhy3C), C_PHY3, 4.2);
drawLine(p1, pwvFlagged, '#ff0000', 3.8);
drawBands(p1, blueBands, 'rgb(140,183,227)', 0.7);
drawBands(p1, cyanBands, '#00ffff', 0.5);
drawBands(p1, pinkBands, 'rgb(215,150,215)', 0.4);
drawAxes(p1, pwvTicks, fmt);
yLabel(255, 750).text('Precip. Water Vapor, mm');
lineLegend(371.5, ['MWR 2C PWV', 'MWR 3C PWV', 'PHY-ITER-2C', 'PHY-ITER-3C'], [C_MWR2, C_MWR3, C_PHY2, C_PHY3]);

// ---------------- panel 2: LWP
var p2 = panel(2, 1425, 2326, [-0.102, 3.634]);
drawLine(p2, lwpMwr2C, C_MWR2, 3.8);
drawLine(p2, lwpMwr3C, C_MWR3, 5);
drawLine(p2, lwpPhy2C, C_PHY2, 4.2);
drawLine(p2, lwpPhy3C, C_PHY3, 4.2);
drawCrosses(p2, lwpCross2C, C_PHY2);
drawCrosses(p2, lwpCross3C, C_PHY3);
drawBands(p2, yellowBands, '#ffff00', 0.5);
drawBands(p2, grayBands, '#808080', 0.5);
drawBands(p2, blueBands, 'rgb(140,183,227)', 0.7);
drawBands(p2, cyanBands, '#00ffff', 0.5);
drawBands(p2, pinkBands, 'rgb(215,150,215)', 0.4);
drawAxes(p2, lwpTicks, fmt);
var lab2 = yLabel(255, 1890);
lab2.append('tspan').text('log10 Liquid Water Path, log10(g/m');
lab2.append('tspan').attr('dy', '-0.45em').style('font-size', '30px').text('2');
lab2.append('tspan').attr('dy', '0.45em').text(' )');
lineLegend(1498.3, ['MWR 2C LWP', 'MWR 3C LWP', 'PHY-ITER-2C', 'PHY-ITER-3C'], [C_MWR2, C_MWR3, C_PHY2, C_PHY3]);

// ---------------- panel 3: DQ flags
var p3 = panel(3, 2548, 3453, [-0.5, 11.5]);
drawRuns(p3, dqBoth, C_PHY2, 0);
drawRuns(p3, dq2COnly, C_PHY2, 0);
drawRuns(p3, dqBoth, C_PHY3, 0.25);
drawRuns(p3, dq3COnly, C_PHY3, 0.25);
drawAxes(p3, dqTicks, fmt);
yLabel(272, 3001).text('DQ Flag');
[['MWR2C', C_PHY2], ['MWR3C', C_PHY3]].forEach(function (d, i) {
    var yy = 2598 + i * 52.5;
    svg.append('circle').attr('cx', 508).attr('cy', yy).attr('r', 3.6).attr('fill', d[1]);
    svg.append('text').attr('x', 598).attr('y', yy).attr('dy', '0.36em')
        .attr('fill', '#000').style('font-size', FS_LEG + 'px').text(d[0]);
});
</script>
</body>
</html>
